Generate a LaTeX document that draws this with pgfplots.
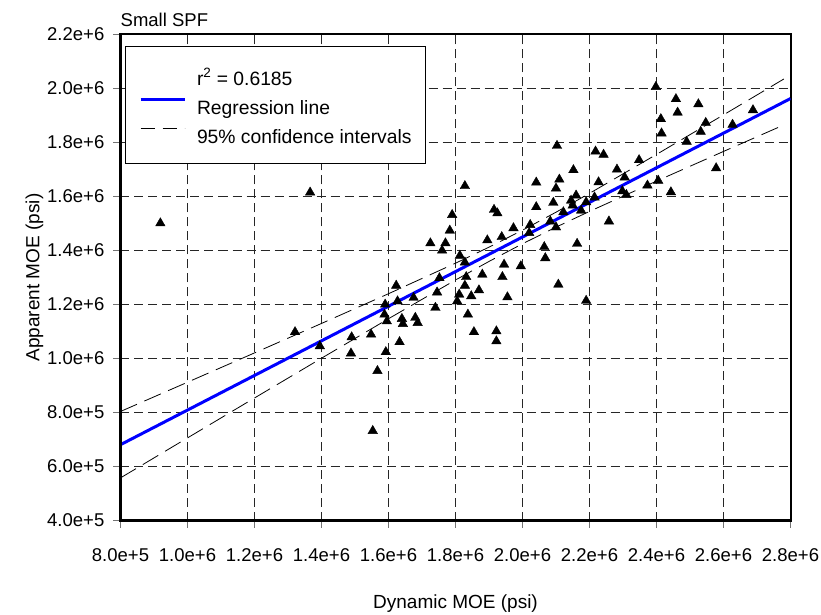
\documentclass[border=0pt]{standalone}
\usepackage{fontspec}
\setmainfont{Liberation Sans}
\usepackage{pgfplots}
\pgfplotsset{compat=1.18}

\pgfplotstableread{
x y
0.919e6 1.501e6
1.366e6 1.615e6
1.725e6 1.427e6
1.770e6 1.427e6
1.760e6 1.400e6
1.783e6 1.474e6
1.828e6 1.639e6
2.041e6 1.652e6
2.110e6 1.663e6
2.100e6 1.630e6
1.790e6 1.532e6
1.915e6 1.551e6
1.925e6 1.538e6
2.041e6 1.561e6
2.092e6 1.577e6
1.895e6 1.438e6
1.938e6 1.450e6
1.973e6 1.483e6
2.023e6 1.495e6
2.020e6 1.465e6
2.083e6 1.508e6
2.100e6 1.486e6
2.065e6 1.413e6
2.068e6 1.372e6
2.107e6 1.274e6
1.813e6 1.381e6
1.828e6 1.356e6
1.945e6 1.348e6
1.995e6 1.342e6
1.880e6 1.311e6
1.832e6 1.302e6
1.940e6 1.302e6
1.752e6 1.298e6
1.828e6 1.270e6
1.870e6 1.253e6
1.745e6 1.245e6
1.811e6 1.237e6
1.847e6 1.231e6
1.805e6 1.212e6
1.955e6 1.227e6
1.623e6 1.270e6
1.627e6 1.212e6
1.675e6 1.225e6
1.590e6 1.200e6
1.740e6 1.188e6
1.588e6 1.163e6
1.595e6 1.138e6
1.640e6 1.147e6
1.643e6 1.128e6
1.680e6 1.151e6
1.687e6 1.132e6
1.837e6 1.163e6
1.855e6 1.098e6
1.922e6 1.101e6
1.922e6 1.064e6
1.490e6 1.079e6
1.548e6 1.089e6
1.395e6 1.046e6
1.488e6 1.019e6
1.592e6 1.024e6
1.633e6 1.061e6
1.567e6 0.954e6
1.553e6 0.732e6
1.321e6 1.098e6
2.398e6 2.006e6
2.458e6 1.961e6
2.525e6 1.942e6
2.463e6 1.911e6
2.688e6 1.920e6
2.413e6 1.887e6
2.415e6 1.834e6
2.547e6 1.873e6
2.532e6 1.840e6
2.627e6 1.866e6
2.490e6 1.803e6
2.103e6 1.788e6
2.218e6 1.767e6
2.242e6 1.755e6
2.348e6 1.735e6
2.152e6 1.698e6
2.282e6 1.700e6
2.578e6 1.705e6
2.227e6 1.653e6
2.305e6 1.671e6
2.373e6 1.641e6
2.405e6 1.659e6
2.443e6 1.616e6
2.298e6 1.620e6
2.310e6 1.606e6
2.145e6 1.585e6
2.160e6 1.604e6
2.150e6 1.567e6
2.190e6 1.579e6
2.215e6 1.597e6
2.122e6 1.542e6
2.175e6 1.548e6
2.258e6 1.508e6
2.163e6 1.425e6
2.190e6 1.214e6
}\scatterdata

\pgfplotstableread{
x reg upper lower
0.80e6 0.6808e6 0.8038e6 0.5578e6
1.00e6 0.8090e6 0.9121e6 0.7059e6
1.20e6 0.9372e6 1.0207e6 0.8537e6
1.40e6 1.0654e6 1.1298e6 1.0010e6
1.60e6 1.1936e6 1.2399e6 1.1473e6
1.80e6 1.3218e6 1.3529e6 1.2907e6
1.90e6 1.3859e6 1.4123e6 1.3595e6
2.00e6 1.4500e6 1.4751e6 1.4249e6
2.10e6 1.5141e6 1.5418e6 1.4864e6
2.20e6 1.5782e6 1.6116e6 1.5448e6
2.40e6 1.7064e6 1.7558e6 1.6570e6
2.60e6 1.8346e6 1.9023e6 1.7669e6
2.78e6 1.9500e6 2.0351e6 1.8649e6
}\ci

\pgfplotstableread{
x reg
0.80e6 0.6808e6
2.80e6 1.9628e6
}\regline

\begin{document}
\fontsize{18.5bp}{22bp}\selectfont
\begin{tikzpicture}
\path[use as bounding box] (-120.5bp,-94.5bp) rectangle (700.5bp,520.5bp);
\begin{axis}[
  at={(0,0)}, anchor=south west,
  scale only axis, width=670bp, height=486bp,
  xmin=800000, xmax=2800000, ymin=400000, ymax=2200000,
  xtick={800000,1000000,1200000,1400000,1600000,1800000,2000000,2200000,2400000,2600000,2800000},
  xticklabels={8.0e+5,1.0e+6,1.2e+6,1.4e+6,1.6e+6,1.8e+6,2.0e+6,2.2e+6,2.4e+6,2.6e+6,2.8e+6},
  ytick={400000,600000,800000,1000000,1200000,1400000,1600000,1800000,2000000,2200000},
  yticklabels={4.0e+5,6.0e+5,8.0e+5,1.0e+6,1.2e+6,1.4e+6,1.6e+6,1.8e+6,2.0e+6,2.2e+6},
  scaled ticks=false,
  grid=major,
  grid style={black!85, line width=1bp, dash pattern=on 9bp off 5bp},
  tick pos=left, tick align=outside, major tick length=7bp,
  tick style={black!55, line width=1bp},
  axis line style={line width=2bp},
  xticklabel style={anchor=base, inner sep=0pt, yshift=-34bp},
  yticklabel style={anchor=east, inner sep=0pt, xshift=-9bp},
  xlabel={Dynamic MOE (psi)},
  ylabel={Apparent MOE (psi)},
  every axis x label/.style={at={(axis description cs:0.5,0)}, anchor=base, yshift=-88bp, font=\fontsize{19bp}{22bp}\selectfont, inner sep=0pt},
  every axis y label/.style={at={(axis description cs:0,0.5)}, xshift=-86bp, rotate=90, anchor=center, font=\fontsize{19bp}{22bp}\selectfont, inner sep=0pt},
  title={Small SPF},
  every axis title/.style={at={(axis description cs:0,1)}, anchor=base west, yshift=8bp, inner sep=0pt},
  legend style={at={(axis description cs:0.006,0.9754)}, anchor=north west,
    draw=black, line width=1bp, fill=white,
    inner xsep=14bp, inner ysep=20.5bp, row sep=11bp, column sep=11bp,
    font=\fontsize{19.3bp}{22bp}\selectfont,
    nodes={inner sep=0pt, text height=18bp, text depth=0pt}},
  legend cell align=left,
  legend image code/.code={\draw[#1] (0bp,6bp) -- (44bp,6bp);},
  extra description/.code={
    \draw[line width=3bp, line cap=rect] (rel axis cs:0,1) -- (rel axis cs:0,0) -- (rel axis cs:1,0);
  },
]
\addlegendimage{empty legend}
\addlegendentry{r\textsuperscript{2} = 0.6185}
\addlegendimage{blue, line width=3bp}
\addlegendentry{Regression line}
\addlegendimage{black, line width=0.8bp, dash pattern=on 14bp off 8bp}
\addlegendentry{95\% confidence intervals}

\addplot[forget plot, black, line width=0.8bp, dash pattern=on 18bp off 8bp] table[x=x, y=upper] {\ci};
\addplot[forget plot, black, line width=0.8bp, dash pattern=on 18bp off 8bp] table[x=x, y=lower] {\ci};
\addplot[forget plot, only marks, mark=triangle*, mark size=5.5bp, black] table[x=x, y=y] {\scatterdata};
\addplot[forget plot, blue, line width=3bp] table[x=x, y=reg] {\regline};
\end{axis}
\end{tikzpicture}
\end{document}
